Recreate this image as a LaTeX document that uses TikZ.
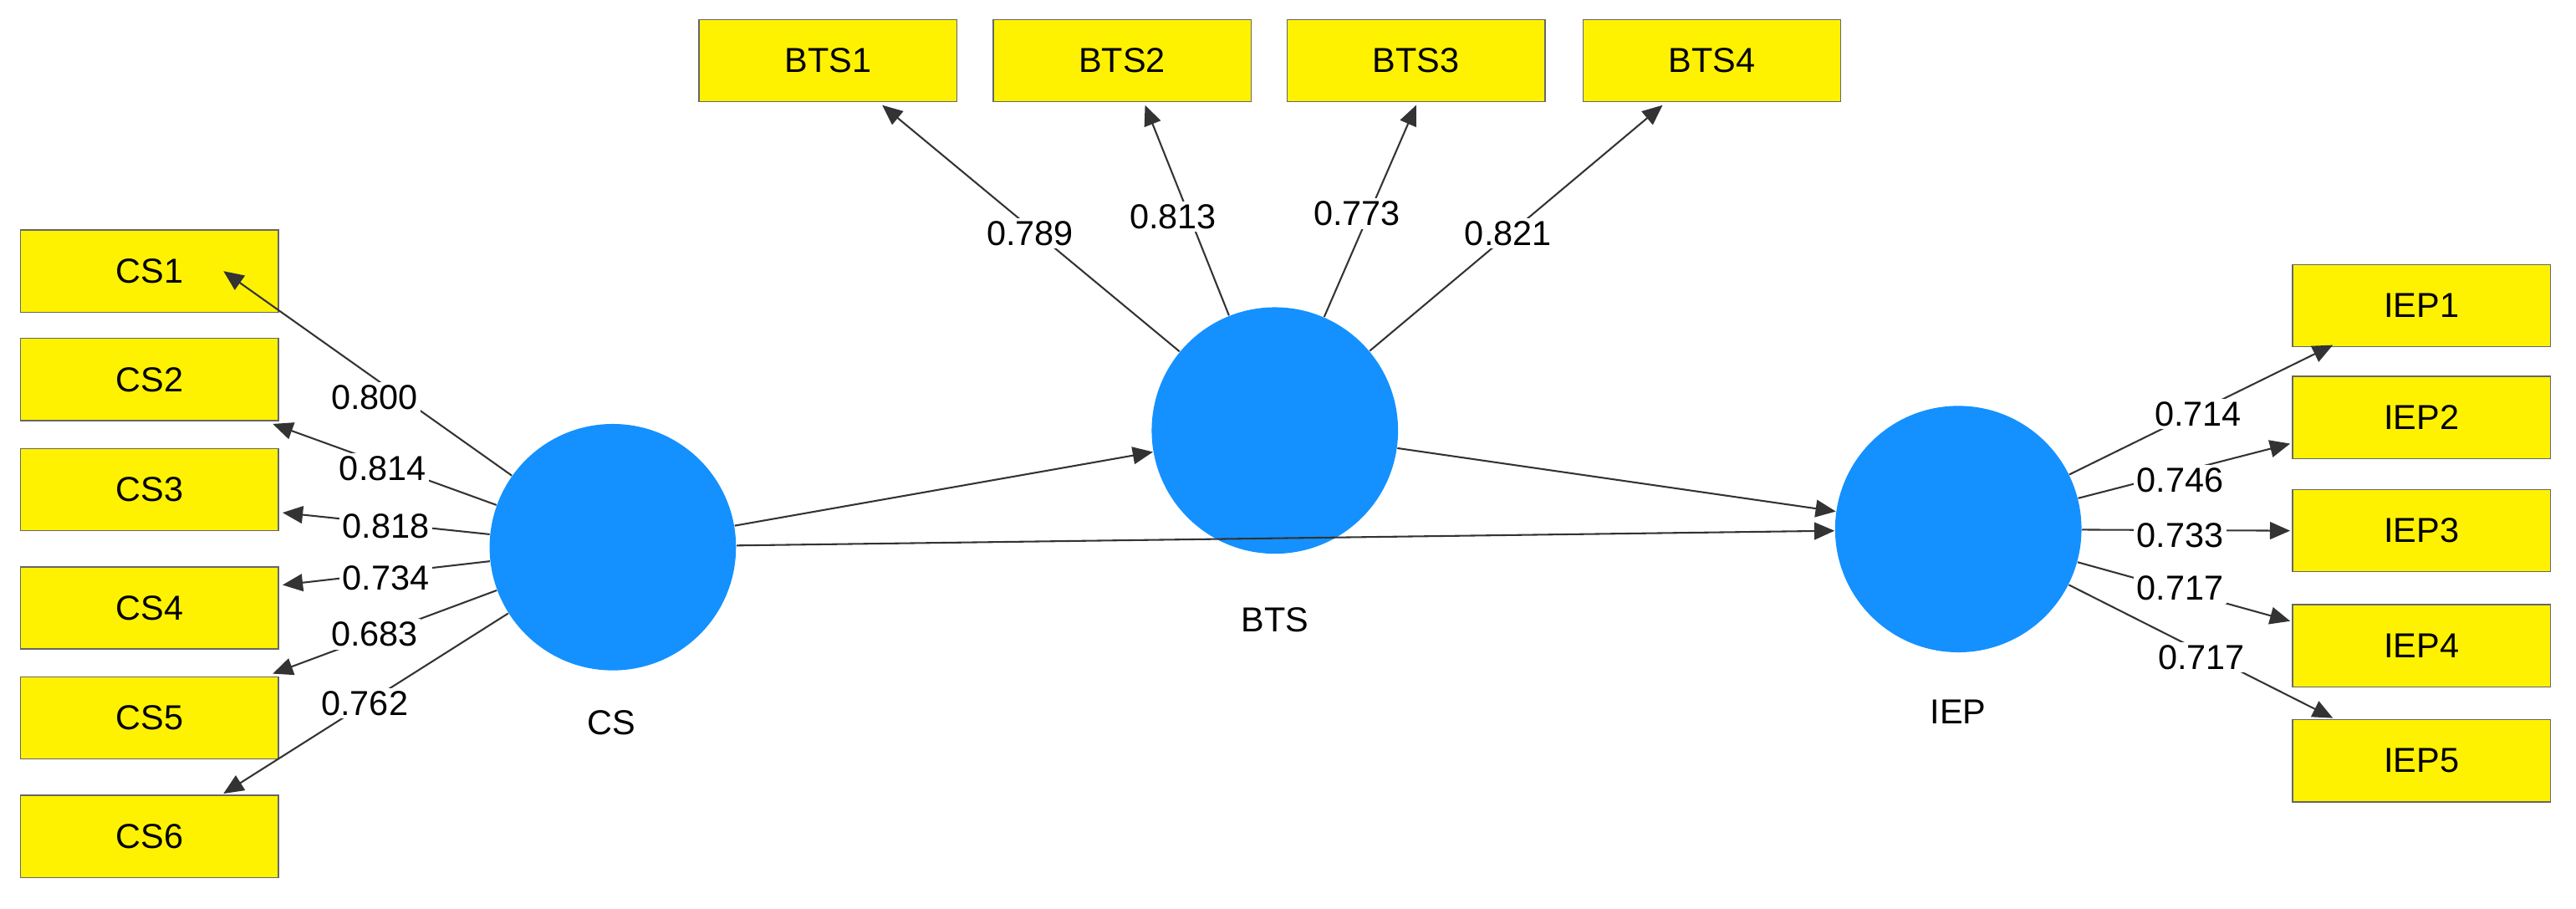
\documentclass[tikz,border=0pt]{standalone}
\usepackage{fontspec}
\setmainfont{Liberation Sans}
\usetikzlibrary{arrows.meta}
\begin{document}
\begin{tikzpicture}[x=0.02cm,y=-0.02cm,
  box/.style={draw=black!60,fill=yellow,minimum width=3.14cm,minimum height=1cm,font=\fontsize{12}{14}\selectfont,inner sep=0},
  lv/.style={circle,fill={rgb,255:red,20;green,145;blue,255},minimum size=3cm,inner sep=0},
  lab/.style={fill=white,inner sep=1pt,font=\fontsize{12}{14}\selectfont},
  ar/.style={-{Triangle[length=7pt,width=6pt]},black!80,line width=0.6pt}]
\useasboundingbox (0,0) rectangle (1568,553);
\node[box] (CS1) at (91,165) {CS1};
\node[box] (CS2) at (91,231) {CS2};
\node[box] (CS3) at (91,298) {CS3};
\node[box] (CS4) at (91,370) {CS4};
\node[box] (CS5) at (91,437) {CS5};
\node[box] (CS6) at (91,509) {CS6};
\node[box] (B1) at (504,37) {BTS1};
\node[box] (B2) at (683,37) {BTS2};
\node[box] (B3) at (862,37) {BTS3};
\node[box] (B4) at (1042,37) {BTS4};
\node[box] (I1) at (1474,186) {IEP1};
\node[box] (I2) at (1474,254) {IEP2};
\node[box] (I3) at (1474,323) {IEP3};
\node[box] (I4) at (1474,393) {IEP4};
\node[box] (I5) at (1474,463) {IEP5};
\node[lv] (CS) at (373,333) {};
\node[lv] (BTS) at (776,262) {};
\node[lv] (IEP) at (1192,322) {};
\node[font=\fontsize{12}{14}\selectfont] (tCS) at (372,440) {CS};
\node[font=\fontsize{12}{14}\selectfont] (tBTS) at (776,377) {BTS};
\node[font=\fontsize{12}{14}\selectfont] (tIEP) at (1192,433) {IEP};
\coordinate (c1) at (136,165); \coordinate (c2) at (166,258); \coordinate (c3) at (172,312);
\coordinate (c4) at (172,356); \coordinate (c5) at (166,410); \coordinate (c6) at (136,483);
\foreach \i in {1,...,6} \draw[ar] (CS) -- (c\i);
\coordinate (b1) at (537,64); \coordinate (b2) at (697,64); \coordinate (b3) at (862,64); \coordinate (b4) at (1012,64);
\foreach \i in {1,...,4} \draw[ar] (BTS) -- (b\i);
\coordinate (i1) at (1420,210); \coordinate (i2) at (1394,270); \coordinate (i3) at (1394,323); \coordinate (i4) at (1394,378); \coordinate (i5) at (1420,437);
\foreach \i in {1,...,5} \draw[ar] (IEP) -- (i\i);
\draw[ar] (CS) -- (BTS);
\draw[ar] (BTS) -- (IEP);
\draw[ar] (CS) -- (IEP);
\node[lab] at (228,242) {0.800};
\node[lab] at (233,285) {0.814};
\node[lab] at (235,320) {0.818};
\node[lab] at (235,352) {0.734};
\node[lab] at (228,386) {0.683};
\node[lab] at (222,428) {0.762};
\node[lab] at (627,142) {0.789};
\node[lab] at (714,132) {0.813};
\node[lab] at (826,130) {0.773};
\node[lab] at (918,142) {0.821};
\node[lab] at (1338,252) {0.714};
\node[lab] at (1327,292) {0.746};
\node[lab] at (1327,326) {0.733};
\node[lab] at (1327,358) {0.717};
\node[lab] at (1340,400) {0.717};
\end{tikzpicture}
\end{document}
